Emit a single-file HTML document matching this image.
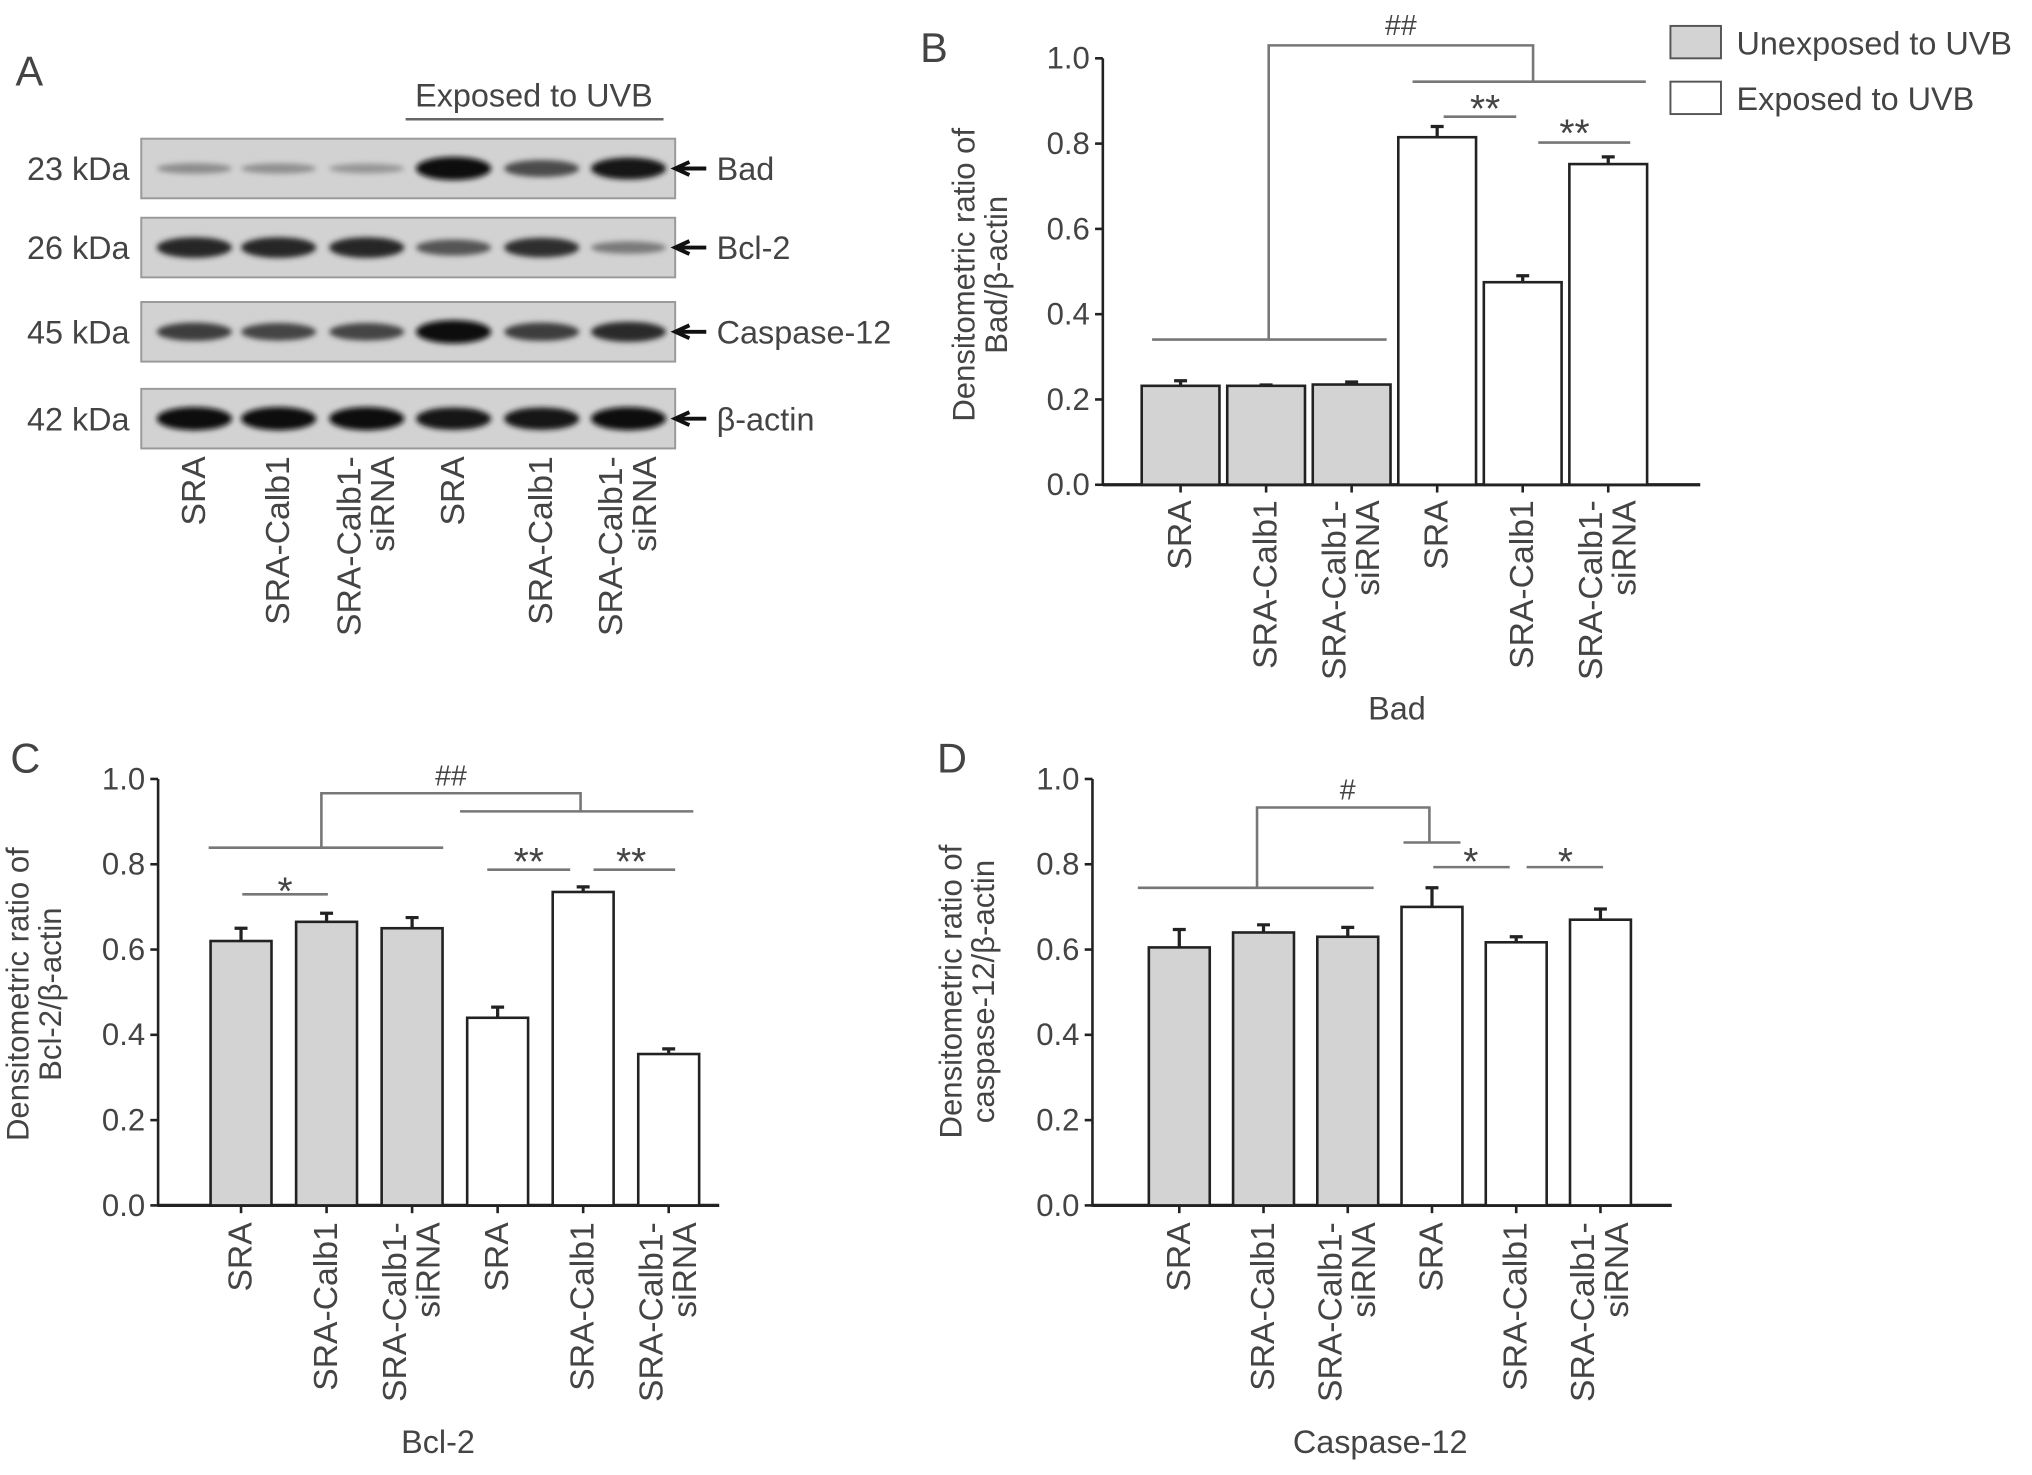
<!DOCTYPE html>
<html><head><meta charset="utf-8">
<style>
html,body{margin:0;padding:0;background:#fff;}
svg{display:block;}
text{font-family:"Liberation Sans Narrow","Liberation Sans",sans-serif;fill:#444;}
.cat{font-family:"Liberation Sans",sans-serif;}
</style></head>
<body>
<svg id="fig" width="2032" height="1475" viewBox="0 0 1568 1138" preserveAspectRatio="none" xmlns="http://www.w3.org/2000/svg">
<g id="panelA"></g>
<g id="panelB"></g>
<g id="panelC"></g>
<g id="panelD"></g>
<g id="legend">
  <rect x="1289" y="20" width="39" height="25" fill="#d3d3d3" stroke="#555" stroke-width="1.5"/>
  <text x="1340" y="42" font-size="25">Unexposed to UVB</text>
  <rect x="1289" y="63" width="39" height="25" fill="#fff" stroke="#555" stroke-width="1.5"/>
  <text x="1340" y="85" font-size="25">Exposed to UVB</text>
</g>
</svg>
<script>
const NS="http://www.w3.org/2000/svg";
const categories=["SRA","SRA-Calb1","SRA-Calb1-\nsiRNA","SRA","SRA-Calb1","SRA-Calb1-\nsiRNA"];
const exposed=[false,false,false,true,true,true];
const yTicks=[0,0.2,0.4,0.6,0.8,1.0];
const yTickLabels=["0.0","0.2","0.4","0.6","0.8","1.0"];
const badValues=[0.232,0.232,0.235,0.815,0.475,0.752];
const badErrors=[0.012,0.002,0.006,0.025,0.015,0.017];
const bcl2Values=[0.62,0.665,0.65,0.44,0.735,0.355];
const bcl2Errors=[0.03,0.02,0.025,0.025,0.012,0.012];
const casValues=[0.605,0.64,0.63,0.70,0.617,0.67];
const casErrors=[0.042,0.018,0.022,0.045,0.013,0.025];
// blot band intensities (0..1) per lane
const blotBad=[0.3,0.28,0.25,1.0,0.65,0.92];
const blotBcl2=[0.85,0.85,0.85,0.6,0.8,0.4];
const blotCas=[0.72,0.68,0.68,1.0,0.72,0.82];
const blotActin=[1,1,1,0.95,0.95,1];

function el(parent,tag,attrs,txt){
  const e=document.createElementNS(NS,tag);
  for(const k in attrs)e.setAttribute(k,attrs[k]);
  if(txt!==undefined)e.textContent=txt;
  parent.appendChild(e);return e;
}

function chart(g,cfg,values,errors){
  const y=v=>cfg.y0-(cfg.y0-cfg.y1)*v;
  const x=i=>cfg.x0+cfg.step*i;
  let a=el(g,'line',{x1:cfg.ax,y1:cfg.y1,x2:cfg.ax,y2:cfg.y0+1,stroke:'#222','stroke-width':2});
  
  
  a=el(g,'line',{x1:cfg.ax,y1:cfg.y0,x2:cfg.axEnd,y2:cfg.y0,stroke:'#222','stroke-width':2.5});
  
  
  yTicks.forEach((t,i)=>{
    const tk=el(g,'line',{x1:cfg.ax-6,y1:y(t),x2:cfg.ax,y2:y(t),stroke:'#222','stroke-width':2});
    
    
    const tl=el(g,'text',{x:cfg.ax-10,y:y(t)+8,'font-size':24,'text-anchor':'end'},yTickLabels[i]);
    
    
  });
  values.forEach((v,i)=>{
    const cx=x(i);
    const b=el(g,'rect',{x:cx-cfg.bw/2,y:y(v),width:cfg.bw,height:cfg.y0-y(v),fill:exposed[i]?'#fff':'#d3d3d3',stroke:'#222','stroke-width':2});
    
    
    const top=y(v+errors[i]);
    const e1=el(g,'path',{d:`M${cx},${y(v)}V${top}M${cx-5},${top}H${cx+5}`,stroke:'#222','stroke-width':2.5,fill:'none'});
    
    
    const tk=el(g,'line',{x1:cx,y1:cfg.y0,x2:cx,y2:cfg.y0+6,stroke:'#222','stroke-width':2});
    
    
    const parts=categories[i].split('\n');
    parts.forEach((p,j)=>{
      const xx=parts.length===1?cx:cx-13+26*j;
      const t=el(g,'text',{x:0,y:0,'font-size':26,'text-anchor':'end','dominant-baseline':'central','class':'cat',transform:`translate(${xx},${cfg.catTop}) rotate(-90)`},p);
      
      
    });
  });
  cfg.title.forEach((s,j)=>{
    const t=el(g,'text',{x:0,y:0,'font-size':24,'text-anchor':'middle','class':'cat',transform:`translate(${cfg.titleX+25*j},${cfg.titleY}) rotate(-90)`},s);
    
    
  });
  const xt=el(g,'text',{x:cfg.xTitle[0],y:cfg.xTitle[1],'font-size':25,'text-anchor':'middle'},cfg.xTitle[2]);
  
  
  const pl=el(g,'text',{x:cfg.letter[0],y:cfg.letter[1],'font-size':32},cfg.letter[2]);
  
  
  cfg.sig.forEach(s=>{
    const p=el(g,'path',{d:s.d,stroke:'#777','stroke-width':2,fill:'none'});
    
    
    const t=el(g,'text',{x:s.tx,y:s.ty,'font-size':s.t.indexOf('#')>=0?22:30,'text-anchor':'middle',fill:'#777'},s.t);
    
    
  });
}

chart(document.getElementById('panelB'),{ax:851,axEnd:1312,y0:374,y1:45,x0:911,step:66,bw:60,catTop:386,
  title:["Densitometric ratio of","Bad/β-actin"],titleX:752,titleY:212,xTitle:[1078,555,"Bad"],letter:[710,48,"B"],
  sig:[{d:"M889,262H1070M979,262V35H1183V63M1090,63H1270",tx:1081,ty:27,t:"##"},
       {d:"M1114,90H1170",tx:1146,ty:94,t:"**"},{d:"M1187,110H1258",tx:1215,ty:113,t:"**"}]},badValues,badErrors);

chart(document.getElementById('panelC'),{ax:122,axEnd:555,y0:930,y1:601,x0:186,step:66,bw:47,catTop:943,
  title:["Densitometric ratio of","Bcl-2/β-actin"],titleX:22,titleY:767,xTitle:[338,1121,"Bcl-2"],letter:[8,596,"C"],
  sig:[{d:"M161,654H342M248,654V612H448V626M355,626H535",tx:348,ty:606,t:"##"},
       {d:"M187,690H253",tx:220,ty:698,t:"*"},{d:"M376,671H440",tx:408,ty:675,t:"**"},{d:"M458,671H521",tx:487,ty:675,t:"**"}]},bcl2Values,bcl2Errors);

chart(document.getElementById('panelD'),{ax:843,axEnd:1290,y0:930,y1:601,x0:910,step:65,bw:47,catTop:943,
  title:["Densitometric ratio of","caspase-12/β-actin"],titleX:742,titleY:765,xTitle:[1065,1121,"Caspase-12"],letter:[723,596,"D"],
  sig:[{d:"M878,685H1060M970,685V623H1103V650M1083,650H1127",tx:1040,ty:617,t:"#"},
       {d:"M1106,669H1165",tx:1135,ty:675,t:"*"},{d:"M1178,669H1237",tx:1208,ty:675,t:"*"}]},casValues,casErrors);

(function(){
  const g=document.getElementById('panelA');
  let t=el(g,'text',{x:12,y:66,'font-size':32},'A');
  
  
  t=el(g,'text',{x:412,y:82,'font-size':25,'text-anchor':'middle'},'Exposed to UVB');
  
  
  let l=el(g,'line',{x1:313,y1:92,x2:512,y2:92,stroke:'#666','stroke-width':2});
  
  
  const defs=el(g,'defs',{});
  const f=el(defs,'filter',{id:'blur',x:'-20%',y:'-100%',width:'140%',height:'300%'});
  el(f,'feGaussianBlur',{stdDeviation:'2'});
  const lanes=[150,215,283,350,418,485];
  const rows=[{y:107,kda:"23 kDa",name:"Bad",v:blotBad},{y:168,kda:"26 kDa",name:"Bcl-2",v:blotBcl2},
              {y:233,kda:"45 kDa",name:"Caspase-12",v:blotCas},{y:300,kda:"42 kDa",name:"β-actin",v:blotActin}];
  rows.forEach(r=>{
    const box=el(g,'rect',{x:109,y:r.y,width:412,height:46,fill:'#d2d2d2',stroke:'#999','stroke-width':1.5});
    
    
    r.v.forEach((v,i)=>{
      const c=Math.round(195-185*v);
      const b=el(g,'ellipse',{cx:lanes[i],cy:r.y+23,rx:29,ry:2+7*v,fill:`rgb(${c},${c},${c})`,filter:'url(#blur)'});
      
      
    });
    const k=el(g,'text',{x:100,y:r.y+32,'font-size':25,'text-anchor':'end'},r.kda);
    
    
    const ar=el(g,'path',{d:`M545,${r.y+23}H524M532,${r.y+18}L521,${r.y+23}L532,${r.y+28}`,stroke:'#111','stroke-width':3,fill:'none'});
    
    
    const n=el(g,'text',{x:553,y:r.y+32,'font-size':25},r.name);
    
    
  });
  categories.forEach((c,i)=>{
    const parts=c.split('\n');
    parts.forEach((p,j)=>{
      const xx=parts.length===1?lanes[i]:lanes[i]-13+26*j;
      const tt=el(g,'text',{x:0,y:0,'font-size':26,'text-anchor':'end','dominant-baseline':'central','class':'cat',transform:`translate(${xx},352) rotate(-90)`},p);
      
      
    });
  });
})();
</script>
</body></html>
